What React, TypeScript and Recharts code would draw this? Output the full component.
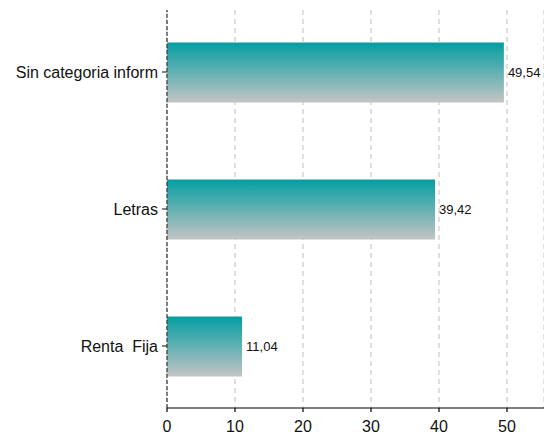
import React from 'react';
import { BarChart, Bar, XAxis, YAxis, CartesianGrid, ReferenceLine, LabelList } from 'recharts';

const categories = ['Sin categoria inform', 'Letras', 'Renta  Fija'];
const values = [49.54, 39.42, 11.04];
const xTicks = [0, 10, 20, 30, 40, 50];

const data = categories.map((c, i) => ({ name: c, value: values[i] }));

const fmt = (v: any) => Number(v).toFixed(2).replace('.', ',');
const FONT = 'Liberation Sans, Arial, sans-serif';

const YTick = (props: any) => {
  const { x, y, payload } = props;
  return (
    <text
      x={x}
      y={y}
      dy="0.355em"
      textAnchor="end"
      fill="#111"
      fontSize={16}
      fontFamily={FONT}
      style={{ whiteSpace: 'pre' }}
    >
      {payload.value}
    </text>
  );
};

export default function App() {
  return (
    <div style={{ position: 'absolute', left: 0, top: 0, width: 544, height: 432, background: '#fff', overflow: 'hidden' }}>
      <BarChart
        width={544}
        height={432}
        data={data}
        layout="vertical"
        margin={{ top: 10, right: 0, bottom: 0, left: 0 }}
        barSize={60}
      >
        <defs>
          <linearGradient id="barGrad" x1="0" y1="0" x2="0" y2="1">
            <stop offset="0%" stopColor="#049ea2" />
            <stop offset="100%" stopColor="#c4c4c4" />
          </linearGradient>
        </defs>
        <CartesianGrid horizontal={false} stroke="#cccccc" strokeDasharray="5 4" strokeWidth={1.2} />
        <XAxis
          type="number"
          domain={[0, 55.44]}
          ticks={xTicks}
          allowDataOverflow
          height={24}
          axisLine={{ stroke: '#000', strokeWidth: 1.2 }}
          tickLine={{ stroke: '#000', strokeWidth: 1.2 }}
          tickSize={4}
          tickMargin={9}
          tick={{ fill: '#111', fontSize: 16, fontFamily: FONT }}
        />
        <YAxis
          type="category"
          dataKey="name"
          width={167}
          padding={{ top: -6.5, bottom: -6.5 }}
          axisLine={false}
          tickLine={{ stroke: '#333', strokeWidth: 1.2 }}
          tickSize={5}
          tickMargin={4}
          tick={<YTick />}
        />
        <ReferenceLine x={0} stroke="#444" strokeDasharray="4 2" strokeWidth={1.3} />
        <Bar dataKey="value" fill="url(#barGrad)" isAnimationActive={false}>
          <LabelList
            dataKey="value"
            position="right"
            offset={4}
            formatter={fmt}
            style={{ fill: '#111', fontSize: 13, fontFamily: FONT }}
          />
        </Bar>
      </BarChart>
    </div>
  );
}
